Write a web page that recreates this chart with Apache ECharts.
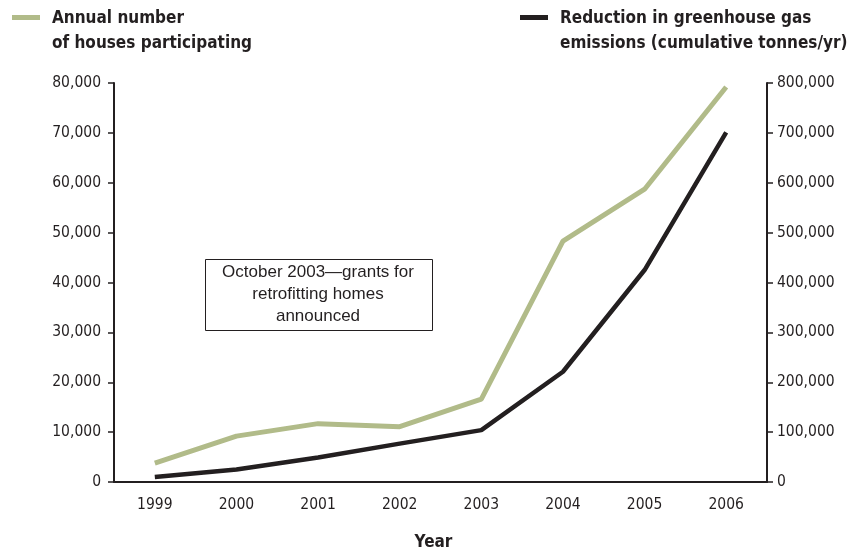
<!DOCTYPE html>
<html>
<head>
<meta charset="utf-8">
<script src="https://cdn.jsdelivr.net/npm/echarts@6/dist/echarts.min.js"></script>
<style>
  html, body { margin: 0; padding: 0; background: #fff; }
  #chart { width: 849px; height: 550px; }
</style>
</head>
<body>
<div id="chart"></div>
<script>
// years on the x axis
const years = ['1999', '2000', '2001', '2002', '2003', '2004', '2005', '2006'];
// houses participating each year (left axis)
const houses = [3800, 9200, 11700, 11100, 16600, 48300, 58700, 79200];
// cumulative reduction in tonnes/yr (right axis)
const reduction = [10000, 25000, 49000, 77000, 104000, 221000, 425000, 701000];

const housesName = 'Annual number\nof houses participating';
const reductionName = 'Reduction in greenhouse gas\nemissions (cumulative tonnes/yr)';
const noteText = 'October 2003\u2014grants for\nretrofitting homes\nannounced';

const green = '#b1bb89';
const dark = '#231f20';
const narrow = '"DejaVu Sans Condensed", sans-serif';

const fmt = v => v.toLocaleString('en-US');

const chart = echarts.init(document.getElementById('chart'));

const option = {
    animation: false,
    grid: { left: 114, right: 82, top: 83, bottom: 68, outerBoundsMode: 'none' },
    xAxis: {
        type: 'category',
        data: years,
        boundaryGap: true,
        name: 'Year',
        nameLocation: 'middle',
        nameGap: 52,
        nameTextStyle: { fontFamily: narrow, fontWeight: 'bold', fontSize: 17, color: dark, padding: [0, 14, 0, 0] },
        axisLine: { lineStyle: { color: dark, width: 2 } },
        axisTick: { length: 6, lineStyle: { color: dark, width: 1.5 } },
        axisLabel: { fontFamily: narrow, fontSize: 15.5, color: dark, margin: 15 },
        splitLine: { show: false }
    },
    yAxis: [
        {
            type: 'value',
            min: 0, max: 80000, interval: 10000,
            axisLine: { show: true, lineStyle: { color: dark, width: 2 } },
            axisTick: { show: true, length: 6, lineStyle: { color: dark, width: 1.5 } },
            axisLabel: { fontFamily: narrow, fontSize: 15.5, color: dark, margin: 13, formatter: fmt },
            splitLine: { show: false }
        },
        {
            type: 'value',
            min: 0, max: 800000, interval: 100000,
            position: 'right',
            axisLine: { show: true, lineStyle: { color: dark, width: 2 } },
            axisTick: { show: true, length: 6, lineStyle: { color: dark, width: 1.5 } },
            axisLabel: { fontFamily: narrow, fontSize: 15.5, color: dark, margin: 10, formatter: fmt },
            splitLine: { show: false }
        }
    ],
    series: [
        {
            name: housesName,
            type: 'line',
            yAxisIndex: 0,
            data: houses,
            symbol: 'none',
            lineStyle: { color: green, width: 5 },
            z: 2
        },
        {
            name: reductionName,
            type: 'line',
            yAxisIndex: 1,
            data: reduction,
            symbol: 'none',
            lineStyle: { color: dark, width: 4.5 },
            z: 3
        }
    ],
    graphic: [
        // legend swatches and labels
        { type: 'rect', left: 12, top: 15, shape: { width: 28, height: 5 }, style: { fill: green } },
        { type: 'text', left: 52, top: 6, style: { text: housesName, font: 'bold 17px ' + narrow, fill: dark, lineHeight: 25 } },
        { type: 'rect', left: 520, top: 15, shape: { width: 28, height: 5 }, style: { fill: dark } },
        { type: 'text', left: 560, top: 6, style: { text: reductionName, font: 'bold 17px ' + narrow, fill: dark, lineHeight: 25 } },
        // annotation box
        {
            type: 'rect', left: 205, top: 259,
            shape: { width: 227, height: 71 },
            style: { fill: '#fff', stroke: dark, lineWidth: 1 }
        },
        {
            type: 'text', x: 318, y: 261,
            style: {
                text: noteText, font: '17px "Liberation Sans", Arial, sans-serif',
                fill: dark, align: 'center', verticalAlign: 'top', lineHeight: 22
            }
        }
    ]
};

chart.setOption(option);
</script>
</body>
</html>
